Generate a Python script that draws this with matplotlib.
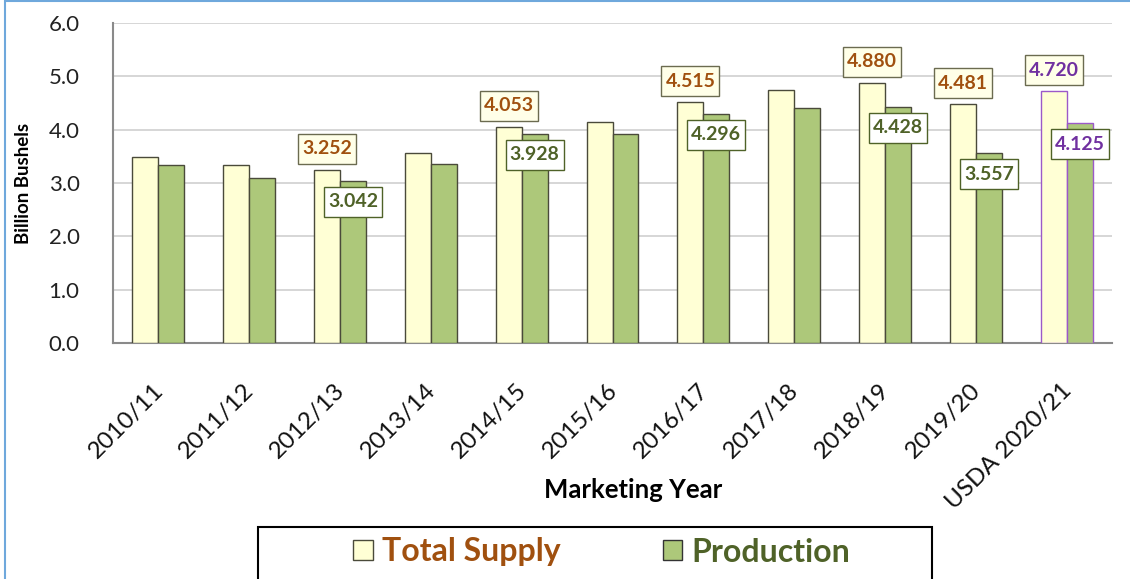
import matplotlib
matplotlib.use("Agg")
import matplotlib.pyplot as plt
from matplotlib.patches import Rectangle, Patch
from matplotlib.transforms import ScaledTranslation, IdentityTransform
import numpy as np

years = ["2010/11", "2011/12", "2012/13", "2013/14", "2014/15", "2015/16",
         "2016/17", "2017/18", "2018/19", "2019/20", "USDA 2020/21"]
total_supply = [3.495, 3.344, 3.252, 3.570, 4.053, 4.140, 4.515, 4.735, 4.880, 4.481, 4.720]
production = [3.329, 3.094, 3.042, 3.357, 3.928, 3.926, 4.296, 4.412, 4.428, 3.557, 4.125]
labeled = [2, 4, 6, 8, 9, 10]
yticks = [0, 1, 2, 3, 4, 5, 6]

plt.rcParams['font.family'] = ['Lato', 'DejaVu Sans']

W, H = 1130, 579
fig = plt.figure(figsize=(W / 100, H / 100), dpi=100)
fig.patch.set_facecolor('white')

# figure border (light blue)
fig.add_artist(Rectangle((5 / W, -0.1), 1.2, 1 - 1 / H + 0.1, transform=fig.transFigure,
                         fill=False, edgecolor='#6fa8dc', linewidth=1.5))

ax = fig.add_axes([113 / W, 1 - 343 / H, (1112 - 113) / W, (343 - 23) / H])
x = np.arange(len(years))
bw = 0.286
supply_fc = '#FFFFD5'
prod_fc = '#ADC87A'
edge = '#4a4a3a'
purple = '#7030A0'
brown = '#A0500F'
dgreen = '#4F6228'

edges_s = [edge] * len(years)
edges_p = [edge] * len(years)
edges_s[-1] = '#9b59c9'
edges_p[-1] = '#9b59c9'
ax.bar(x - bw / 2, total_supply, bw, color=supply_fc, edgecolor=edges_s, linewidth=1.0, zorder=3)
ax.bar(x + bw / 2, production, bw, color=prod_fc, edgecolor=edges_p, linewidth=1.0, zorder=3)

ax.set_xlim(-0.5, len(years) - 0.5)
ax.set_ylim(0, 6)
ax.set_yticks(yticks)
ax.set_yticklabels([f"{v:.1f}" for v in yticks], fontsize=16, color='#222222')
ax.set_xticks(x)
ax.set_xticklabels(years, rotation=45, ha='right', rotation_mode='anchor', fontsize=17.5,
                   color='#111111')
ax.tick_params(axis='y', length=0, pad=24)
ax.tick_params(axis='x', length=0, pad=12)
off = ScaledTranslation(-6 / 100, -20 / 100, fig.dpi_scale_trans)
for lab in ax.get_xticklabels():
    lab.set_transform(lab.get_transform() + off)
ax.yaxis.grid(True, color='#d0d0d0', linewidth=1.2, zorder=0)
ax.set_axisbelow(True)
for s in ['top', 'right']:
    ax.spines[s].set_visible(False)
ax.spines['left'].set_color('#8a8a8a')
ax.spines['bottom'].set_color('#8a8a8a')
ax.spines['left'].set_linewidth(1.5)
ax.spines['bottom'].set_linewidth(1.5)

ax.set_ylabel("Billion Bushels", fontsize=13.5, fontweight='bold', labelpad=12)
fig.text(633 / W, 1 - 490 / H, "Marketing Year", fontsize=18.5, fontweight='bold',
         ha='center', va='center')

px2pt = 72 / 100
labels = []
for i in labeled:
    tc_s = purple if i == len(years) - 1 else brown
    tc_p = purple if i == len(years) - 1 else dgreen
    t1 = ax.annotate(f"{total_supply[i]:.3f}", (x[i] - bw / 2, total_supply[i]),
                     xytext=(0, 21 * px2pt), textcoords='offset points', ha='center', va='center',
                     fontsize=14, fontweight='bold', color=tc_s, zorder=6)
    t2 = ax.annotate(f"{production[i]:.3f}", (x[i] + bw / 2, production[i]),
                     xytext=(0, -21 * px2pt), textcoords='offset points', ha='center', va='center',
                     fontsize=14, fontweight='bold', color=tc_p, zorder=6)
    labels.append((t1, '#FFFFE8', '#6b6b50'))
    labels.append((t2, 'white', '#4F6228'))

fig.canvas.draw()
for t, fc, ec in labels:
    bb = t.get_window_extent()
    cx = (bb.x0 + bb.x1) / 2
    cy = (bb.y0 + bb.y1) / 2
    w = bb.width + 8
    h = 30
    r = Rectangle((cx - w / 2, cy - h / 2), w, h, transform=IdentityTransform(),
                  facecolor=fc, edgecolor=ec, linewidth=1.0, zorder=5, clip_on=False)
    ax.add_artist(r)

# legend frame (cut off at bottom)
fig.add_artist(Rectangle((258 / W, -0.1), (932 - 258) / W, 0.1 + (579 - 527) / H,
                         transform=fig.transFigure, fill=False, edgecolor='black', linewidth=1.5))
handles = [Patch(facecolor=supply_fc, edgecolor=edge), Patch(facecolor=prod_fc, edgecolor='#333333')]
leg = fig.legend(handles, ["Total Supply", "Production"], loc='center',
                 bbox_to_anchor=(602 / W, 1 - 552 / H), ncol=2, frameon=False,
                 prop={'size': 23, 'weight': 'bold'}, labelcolor=[brown, dgreen],
                 handlelength=0.6, handleheight=0.6, handletextpad=0.3, columnspacing=3.2)

fig.savefig("out.png", dpi=100)
